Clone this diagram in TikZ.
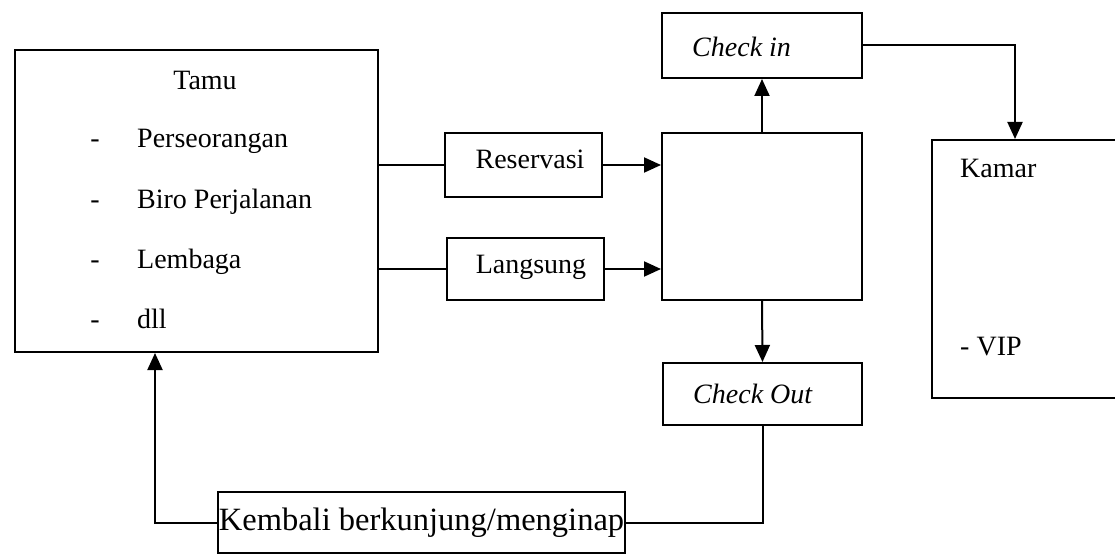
\documentclass[tikz,border=0pt]{standalone}
\usepackage{fontspec}
\setmainfont{Liberation Serif}
\usetikzlibrary{arrows.meta, positioning}

\begin{document}
\begin{tikzpicture}[
      x=1pt, y=-1pt,
      mybox/.style={
         rectangle,
         draw=black,
         line width=2pt,
         inner sep=0pt},
      mytext/.style={
         inner sep=0pt,
         font=\fontsize{28}{32}\selectfont},
      myline/.style={line width=2pt},
      myarrow/.style={-{Triangle[length=17pt,width=15pt]}}
      ]
      \useasboundingbox (0,0) rectangle (1115,556);

      % boxes
      \node[mybox, minimum width=363pt, minimum height=302pt] at (196.5,201) (tamu) {};
      \node[mybox, minimum width=157pt, minimum height=64pt] at (523.5,165) (reservasi) {};
      \node[mybox, minimum width=157pt, minimum height=62pt] at (525.5,269) (langsung) {};
      \node[mybox, minimum width=200pt, minimum height=167pt] at (762,216.5) (pusat) {};
      \node[mybox, minimum width=200pt, minimum height=65pt] at (762,45.5) (checkin) {};
      \node[mybox, minimum width=199pt, minimum height=62pt] at (762.5,394) (checkout) {};
      \node[mybox, minimum width=188pt, minimum height=258pt] at (1026,269) (kamar) {};
      \node[mybox, minimum width=407pt, minimum height=61pt, font=\fontsize{32.5}{36}\selectfont]
           at (421.5,522.5) (kembali) {Kembali berkunjung/menginap};

      % texts
      \node[mytext, anchor=base] at (205,90) (tamutxt) {Tamu};
      \foreach \y/\txt/\name in {148/Perseorangan/a, 208/Biro Perjalanan/b, 268/Lembaga/c, 328/dll/d}{
        \node[mytext, anchor=base] at (95,\y) (dash\name) {-};
        \node[mytext, anchor=base west] at (137,\y) (item\name) {\txt};
      }
      \node[mytext, anchor=base] at (530,168) (restxt) {Reservasi};
      \node[mytext, anchor=base] at (531,273) (langtxt) {Langsung};
      \node[mytext, anchor=base west] at (692,57) (cintxt) {\itshape Check in};
      \node[mytext, anchor=base west] at (693,403) (couttxt) {\itshape Check Out};
      \node[mytext, anchor=base west] at (960,178) (kamartxt) {Kamar};
      \node[mytext, anchor=base west] at (960,355) (viptxt) {- VIP};

      % connectors
      \draw[myline] (tamu.east |- reservasi.west) -- (reservasi.west);
      \draw[myline] (tamu.east |- langsung.west) -- (langsung.west);
      \draw[myline, myarrow] (reservasi.east) -- (reservasi.east -| pusat.west);
      \draw[myline, myarrow] (langsung.east) -- (langsung.east -| pusat.west);
      \draw[myline, myarrow] (pusat.north) -- (checkin.south);
      \draw[myline, myarrow] (checkin.east) -| ([xshift=-11pt]kamar.north);
      \draw[myline, myarrow] (pusat.south) -- (checkout.north);
      \draw[myline] (checkout.south) |- (kembali.east);
      \draw[myline, myarrow] (kembali.west) -| ([xshift=-41.5pt]tamu.south);

    \end{tikzpicture}
\end{document}
